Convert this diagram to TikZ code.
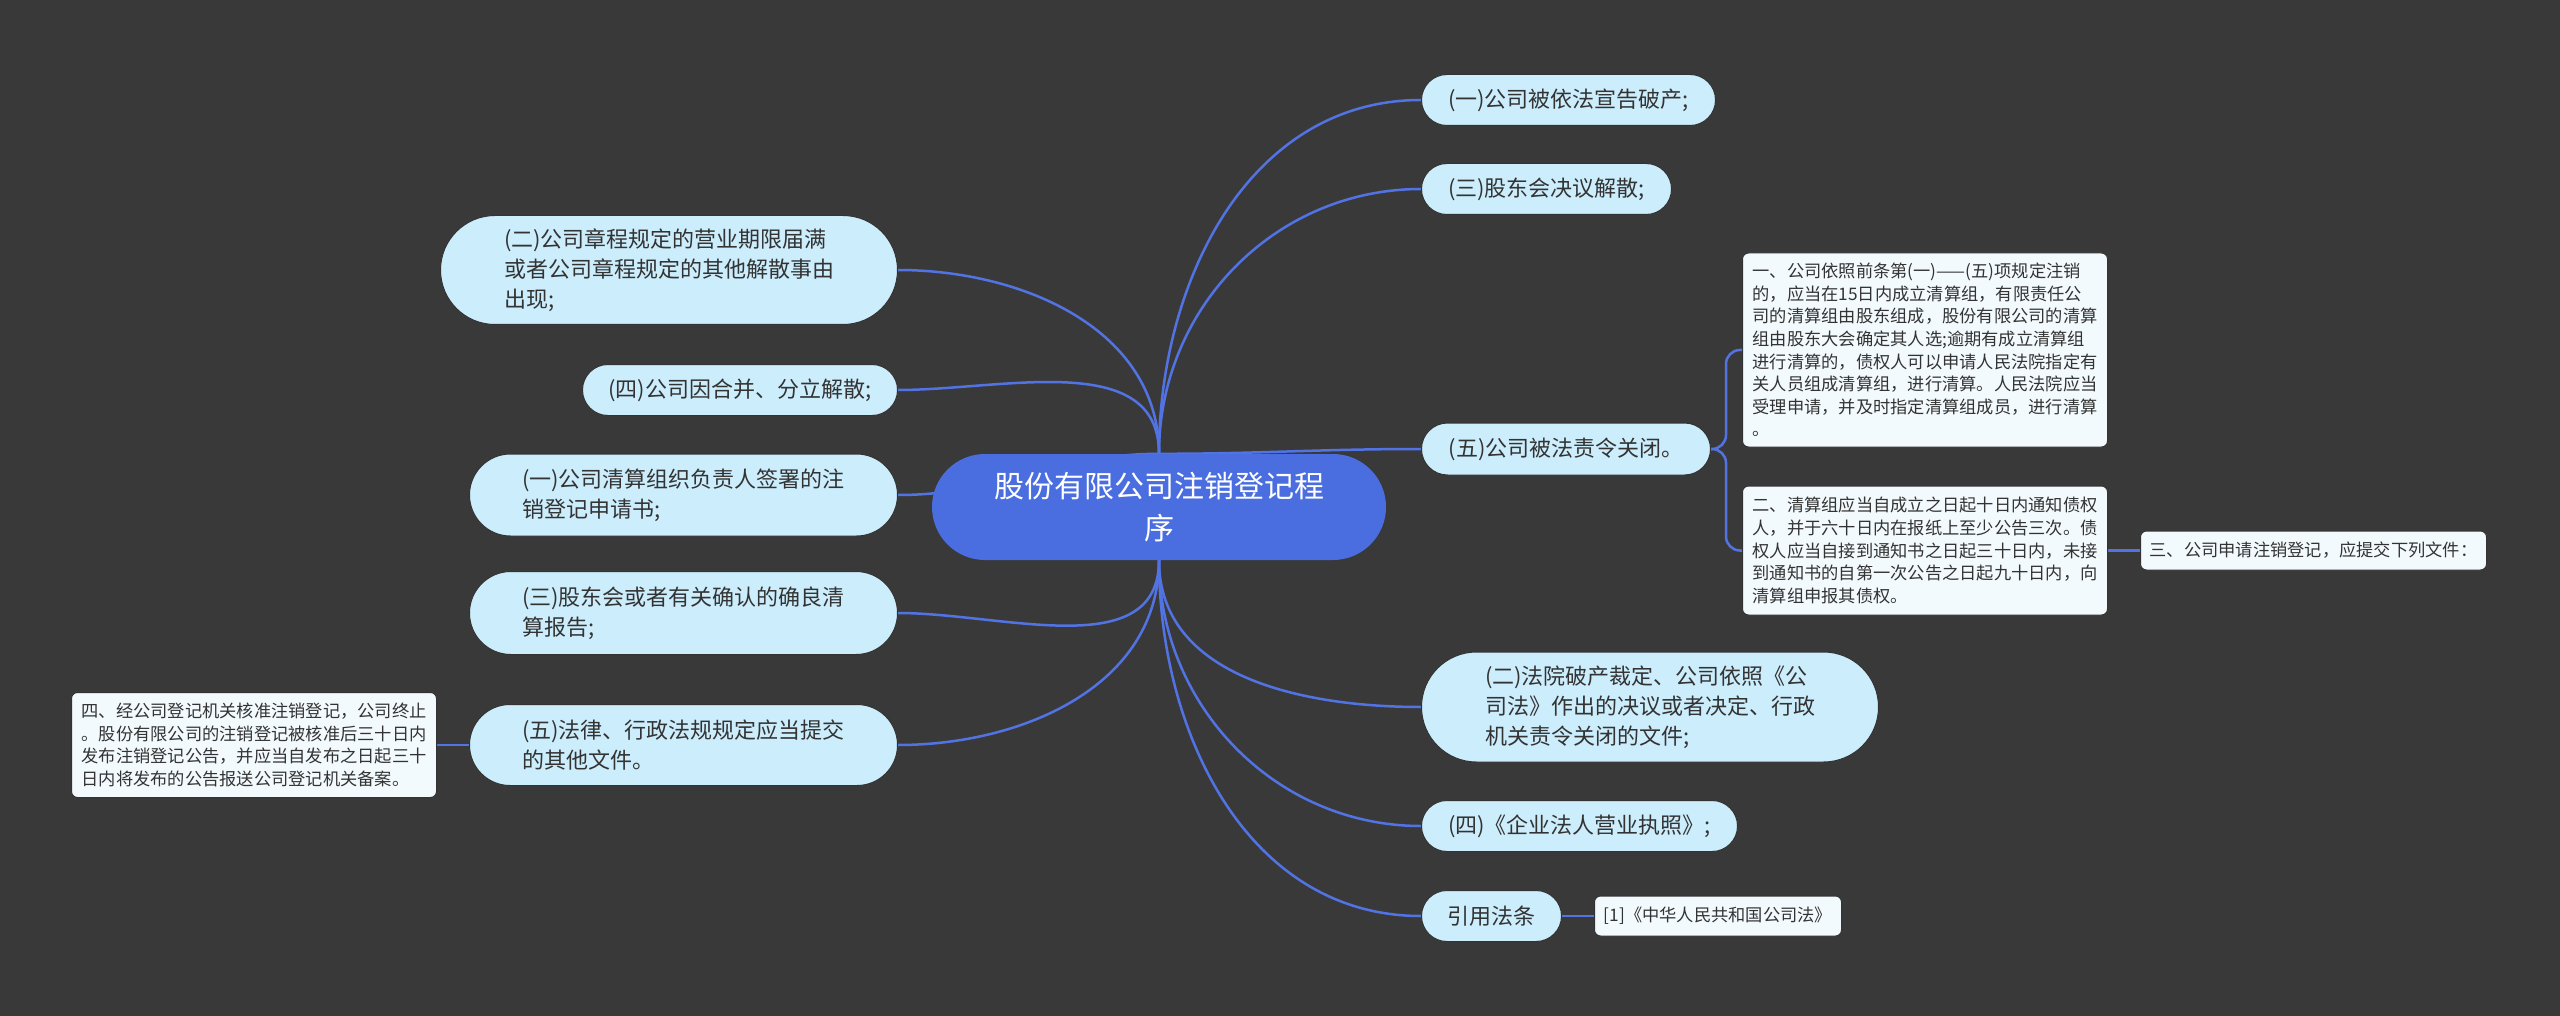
\documentclass[tikz,border=0pt]{standalone}
\usepackage{fontspec}
\setmainfont{Noto Sans CJK SC}
\usetikzlibrary{positioning, shapes.misc}
\definecolor{bgdark}{HTML}{3A3939}
\definecolor{rootblue}{HTML}{4A6EE0}
\definecolor{linkblue}{HTML}{5273E3}
\definecolor{topicfill}{HTML}{CCEDFC}
\definecolor{leaffill}{HTML}{F3FAFD}
\definecolor{textdark}{HTML}{333333}
\pgfdeclarelayer{back}
\pgfdeclarelayer{edges}
\pgfsetlayers{back,edges,main}
\tikzset{
    mindmap/.style={x=1pt, y=-1pt, line join=round},
    root/.style={rounded rectangle, fill=rootblue, text=white, inner sep=0pt, align=center, font=\fontsize{30}{42}\selectfont},
    topic/.style={rounded rectangle, draw=black!80, line width=1pt, fill=topicfill, text=textdark, inner sep=0pt, align=left, font=\fontsize{22}{30}\selectfont},
    leaf/.style={rectangle, rounded corners=6pt, draw=black!80, line width=1pt, fill=leaffill, text=textdark, inner sep=0pt, align=left, font=\fontsize{17.25}{22.6}\selectfont},
    % connectors run under the nodes
    link/.style={draw=linkblue, line width=2.5pt},
}

\begin{document}
\begin{tikzpicture}[mindmap]
    \useasboundingbox (0,0) rectangle (2560,1016);
    \begin{pgfonlayer}{back}
        \fill[bgdark] (0,0) rectangle (2560,1016);
    \end{pgfonlayer}

    \node[root, minimum width=454pt, minimum height=106pt] (root) at (1159,507) {股份有限公司注销登记程\\序};

    \node[topic, minimum width=294pt, minimum height=51pt, anchor=west] (r1) at (1421,100) {(一)公司被依法宣告破产;};
    \node[topic, minimum width=250pt, minimum height=51pt, anchor=west] (r2) at (1421,189) {(三)股东会决议解散;};
    \node[topic, minimum width=289pt, minimum height=52pt, anchor=west] (r3) at (1421,449) {(五)公司被法责令关闭。};
    \node[topic, minimum width=457pt, minimum height=110pt, anchor=west] (r4) at (1421,707) {(二)法院破产裁定、公司依照《公\\司法》作出的决议或者决定、行政\\机关责令关闭的文件;};
    \node[topic, minimum width=316pt, minimum height=51pt, anchor=west] (r5) at (1421,826) {(四)《企业法人营业执照》;};
    \node[topic, minimum width=140pt, minimum height=51pt, anchor=west] (r6) at (1421,916) {引用法条};

    \node[topic, minimum width=457pt, minimum height=109pt, anchor=east] (l1) at (898,270) {(二)公司章程规定的营业期限届满\\或者公司章程规定的其他解散事由\\出现;};
    \node[topic, minimum width=315pt, minimum height=51pt, anchor=east] (l2) at (898,390) {(四)公司因合并、分立解散;};
    \node[topic, minimum width=428pt, minimum height=82pt, anchor=east] (l3) at (898,495) {(一)公司清算组织负责人签署的注\\销登记申请书;};
    \node[topic, minimum width=428pt, minimum height=83pt, anchor=east] (l4) at (898,613) {(三)股东会或者有关确认的确良清\\算报告;};
    \node[topic, minimum width=428pt, minimum height=81pt, anchor=east] (l5) at (898,745) {(五)法律、行政法规规定应当提交\\的其他文件。};

    \node[leaf, minimum width=365pt, minimum height=194pt, anchor=west] (la) at (1742,350) {一、公司依照前条第(一)——(五)项规定注销\\的，应当在15日内成立清算组，有限责任公\\司的清算组由股东组成，股份有限公司的清算\\组由股东大会确定其人选;逾期有成立清算组\\进行清算的，债权人可以申请人民法院指定有\\关人员组成清算组，进行清算。人民法院应当\\受理申请，并及时指定清算组成员，进行清算\\。};
    \node[leaf, minimum width=365pt, minimum height=129pt, below=38pt of la] (lb) {二、清算组应当自成立之日起十日内通知债权\\人，并于六十日内在报纸上至少公告三次。债\\权人应当自接到通知书之日起三十日内，未接\\到通知书的自第一次公告之日起九十日内，向\\清算组申报其债权。};
    \node[leaf, minimum width=346pt, minimum height=39pt, right=32pt of lb] (lc) {三、公司申请注销登记，应提交下列文件：};
    \node[leaf, minimum width=247pt, minimum height=40pt, right=32pt of r6] (lref) {[1]《中华人民共和国公司法》};
    \node[leaf, minimum width=365pt, minimum height=105pt, left=32pt of l5] (ll) {四、经公司登记机关核准注销登记，公司终止\\。股份有限公司的注销登记被核准后三十日内\\发布注销登记公告，并应当自发布之日起三十\\日内将发布的公告报送公司登记机关备案。};

    \begin{pgfonlayer}{edges}
        \draw[link] (root.north) to[out=90, in=180] (r1.west);
        \draw[link] (root.north) to[out=90, in=180] (r2.west);
        \draw[link] (root.north) to[out=0, in=180] (r3.west);
        \draw[link] (root.south) to[out=-90, in=180] (r4.west);
        \draw[link] (root.south) to[out=-90, in=180] (r5.west);
        \draw[link] (root.south) to[out=-90, in=180] (r6.west);
        \draw[link] (root.north) to[out=90, in=0] (l1.east);
        \draw[link] (root.north) to[out=90, in=0] (l2.east);
        \draw[link] (root.north) to[out=180, in=0] (l3.east);
        \draw[link] (root.south) to[out=-90, in=0] (l4.east);
        \draw[link] (root.south) to[out=-90, in=0] (l5.east);

        \draw[link, rounded corners=14pt] (r3.east) -| ([xshift=-16pt]la.west) -- (la.west);
        \draw[link, rounded corners=14pt] (r3.east) -| ([xshift=-16pt]lb.west) -- (lb.west);
        \draw[link] (lb.east) -- (lc.west);
        \draw[link] (r6.east) -- (lref.west);
        \draw[link] (l5.west) -- (ll.east);
    \end{pgfonlayer}
\end{tikzpicture}
\end{document}
